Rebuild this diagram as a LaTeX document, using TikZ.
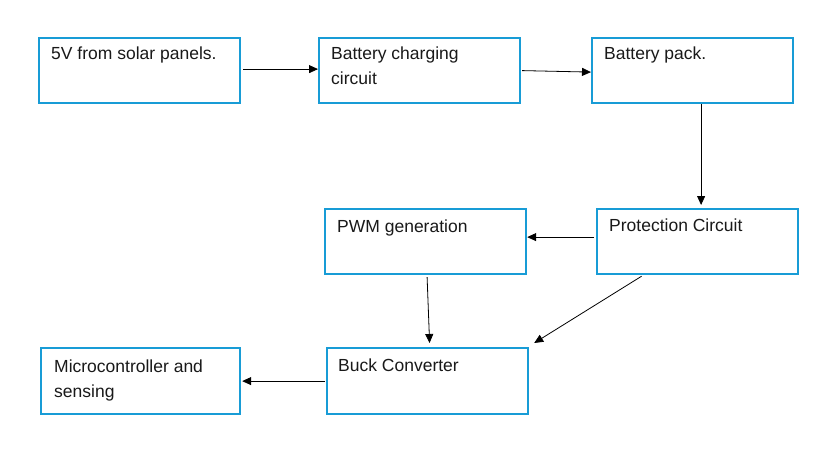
\documentclass[tikz,border=0pt]{standalone}
\usepackage{fontspec}
\setmainfont{Liberation Sans}
\usetikzlibrary{arrows.meta}
\definecolor{boxblue}{RGB}{24,156,214}
\begin{document}
\begin{tikzpicture}[x=1pt,y=-1pt,
  blockbox/.style={draw=boxblue, line width=2.2pt, fill=white, rectangle,
    minimum width=201pt, minimum height=65pt, anchor=north west, inner sep=0pt},
  blocktext/.style={anchor=base west, inner sep=0pt, align=left,
    font=\fontsize{17.5}{25.5}\selectfont, text=black!90},
  arr/.style={draw=black, line width=0.8pt, -{Triangle[length=9pt,width=8pt]}}]
\useasboundingbox (0,0) rectangle (814,463);
\fill[white] (0,0) rectangle (814,463);

% blocks
\node[blockbox] (solar)   at (38,37)  {};
\node[blockbox] (charge)  at (318,37) {};
\node[blockbox] (pack)    at (591,37) {};
\node[blockbox] (protect) at (596,208) {};
\node[blockbox] (pwm)     at (324,208) {};
\node[blockbox, minimum height=66pt] (buck)  at (326,347) {};
\node[blockbox, minimum width=199pt, minimum height=66pt] (mcu) at (40,347) {};

% labels (two-line labels are placed by the baseline of their last line)
\node[blocktext] (tsolar)   at (51,59)   {5V from solar panels.};
\node[blocktext] (tcharge)  at (331,84.5){Battery charging\\circuit};
\node[blocktext] (tpack)    at (604,59)  {Battery pack.};
\node[blocktext] (tprotect) at (609,231) {Protection Circuit};
\node[blocktext] (tpwm)     at (337,232) {PWM generation};
\node[blocktext] (tbuck)    at (338,371) {Buck Converter};
\node[blocktext] (tmcu)     at (54,397.5){Microcontroller and\\sensing};

% connectors
\draw[arr] ([xshift=2pt,yshift=1.5pt]solar.east) -- ([yshift=1.5pt]charge.west);
\draw[arr] ([xshift=1pt]charge.east) -- ([yshift=-1.5pt]pack.west);
\draw[arr] ([xshift=8.5pt]pack.south) -- ([xshift=3.5pt,yshift=3pt]protect.north);
\draw[arr] ([xshift=-2pt,yshift=4.5pt]protect.west) -- ([yshift=4.5pt]pwm.east);
\draw[arr] ([xshift=1.5pt,yshift=-2pt]pwm.south) -- ([xshift=2pt,yshift=4pt]buck.north);
\draw[arr] ([xshift=-56pt,yshift=-1pt]protect.south) -- ([xshift=5pt,yshift=4pt]buck.north east);
\draw[arr] ([xshift=-1pt]buck.west) -- ([xshift=1pt]mcu.east);
\end{tikzpicture}
\end{document}
